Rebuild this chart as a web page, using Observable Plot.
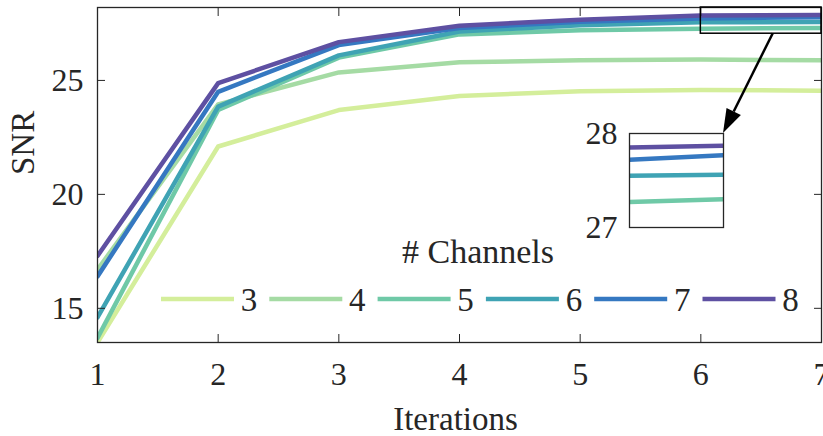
<!DOCTYPE html>
<html><head><meta charset="utf-8">
<script src="https://cdn.jsdelivr.net/npm/d3@7"></script>
<script src="https://cdn.jsdelivr.net/npm/@observablehq/plot@0.6"></script>
<style>
body{margin:0;background:#fff;font-family:"Liberation Serif","DejaVu Serif",serif;}
#wrap{position:relative;width:823px;height:436px;overflow:hidden;}
#inset{position:absolute;left:579px;top:123px;}
svg text{font-family:"Liberation Serif","DejaVu Serif",serif !important;}
</style></head><body><div id="wrap"><div id="main"></div><div id="inset"></div></div>
<script>
// ---- data ----
const iterations = [1, 2, 3, 4, 5, 6, 7];
const channels = [3, 4, 5, 6, 7, 8];
const snr3 = [13.5, 22.1, 23.7, 24.32, 24.52, 24.58, 24.55];
const snr4 = [16.7, 23.95, 25.35, 25.8, 25.88, 25.92, 25.88];
const snr5 = [13.7, 23.7, 26.0, 27.02, 27.2, 27.27, 27.3];
const snr6 = [14.6, 23.85, 26.1, 27.15, 27.42, 27.55, 27.56];
const snr7 = [16.4, 24.5, 26.55, 27.3, 27.57, 27.72, 27.77];
const snr8 = [17.3, 24.88, 26.68, 27.4, 27.66, 27.85, 27.87];
const channelColors = ["#d4ee9b", "#a5dba4", "#6fc9a7", "#3fa3b4", "#3578c1", "#5e50a2"];
const xTicks = [1, 2, 3, 4, 5, 6, 7];
const yTicks = [15, 20, 25];
const insetYTicks = [27, 28];
const zoomBox = [{x1: 6, x2: 7, y1: 27.05, y2: 28.2}];
const arrowStart = {x: 6.6, y: 27.05};

const seriesValues = [snr3, snr4, snr5, snr6, snr7, snr8];
const data = channels.flatMap((c, i) => iterations.map((it, j) => ({channel: c, iteration: it, snr: seriesValues[i][j]})));

const font = "Liberation Serif, DejaVu Serif, serif";
const ink = "#262626";
const color = {domain: channels, range: channelColors};
const fmt = d => String(d);

const main = Plot.plot({
  width: 823, height: 436,
  marginLeft: 97, marginRight: 2, marginTop: 7, marginBottom: 94,
  style: {fontFamily: font, color: ink, background: "#fff", overflow: "visible"},
  x: {domain: [1, 7]},
  y: {domain: [13.5, 28.2]},
  color,
  marks: [
    Plot.line(data, {x: "iteration", y: "snr", z: "channel", stroke: "channel", strokeWidth: 4.5, clip: true}),
    Plot.frame({stroke: ink, strokeWidth: 1.3}),
    Plot.axisX(xTicks, {anchor: "bottom", tickSize: -8, tickFormat: () => "", label: null}),
    Plot.axisX(xTicks, {anchor: "top", tickSize: -8, tickFormat: () => "", label: null}),
    Plot.axisY(yTicks, {anchor: "left", tickSize: -8, tickFormat: () => "", label: null}),
    Plot.axisY(yTicks, {anchor: "right", tickSize: -8, tickFormat: () => "", label: null}),
    Plot.axisX(xTicks, {anchor: "bottom", tickSize: 0, tickPadding: 20, fontSize: 32, tickFormat: fmt, label: null}),
    Plot.axisY(yTicks, {anchor: "left", tickSize: 0, tickPadding: 14, fontSize: 32, tickFormat: fmt, label: null}),
    Plot.text(["Iterations"], {frameAnchor: "bottom", lineAnchor: "top", dy: 64, dx: -4, fontSize: 33, fill: ink}),
    Plot.text(["SNR"], {frameAnchor: "left", rotate: -90, dx: -74, fontSize: 33, fill: ink}),
    Plot.rect(zoomBox, {x1: "x1", x2: "x2", y1: "y1", y2: "y2", stroke: "#000", fill: "none", strokeWidth: 1.5})
  ]
});
document.getElementById("main").appendChild(main);

const insetLeft = 579, insetTop = 123;
const insetData = data.filter(d => d.iteration >= 6 && d.channel >= 5);
const inset = Plot.plot({
  width: 146, height: 124,
  marginLeft: 50, marginRight: 2, marginTop: 10, marginBottom: 20,
  style: {fontFamily: font, color: ink, background: "transparent", overflow: "visible"},
  x: {domain: [6, 7], axis: null},
  y: {domain: [27, 28], axis: null},
  color,
  marks: [
    Plot.frame({fill: "#fff"}),
    Plot.line(insetData, {x: "iteration", y: "snr", z: "channel", stroke: "channel", strokeWidth: 4.5, clip: true}),
    Plot.frame({stroke: ink, strokeWidth: 1.3}),
    Plot.axisY(insetYTicks, {anchor: "left", tickSize: 0, tickPadding: 12, fontSize: 32, tickFormat: fmt, label: null})
  ]
});
document.getElementById("inset").appendChild(inset);

// ---- arrow + legend overlay ----
const svg = d3.select(main);
const sx = main.scale("x"), sy = main.scale("y");
const ix = inset.scale("x"), iy = inset.scale("y");
const x0 = sx.apply(arrowStart.x), y0 = sy.apply(arrowStart.y);
const x1 = insetLeft + ix.apply(7), y1 = insetTop + iy.apply(28);
const ang = Math.atan2(y1 - y0, x1 - x0);
const hl = 24, hw = 8;
const bx = x1 - hl * Math.cos(ang), by = y1 - hl * Math.sin(ang);
svg.append("line").attr("x1", x0).attr("y1", y0).attr("x2", bx).attr("y2", by)
  .attr("stroke", "#000").attr("stroke-width", 2.5);
svg.append("polygon").attr("points", [
  [x1, y1],
  [bx + hw * Math.sin(ang), by - hw * Math.cos(ang)],
  [bx - hw * Math.sin(ang), by + hw * Math.cos(ang)]
].map(p => p.join(",")).join(" ")).attr("fill", "#000");

const lg = svg.append("g").attr("font-family", font).attr("fill", ink);
lg.append("text").attr("x", 478).attr("y", 263).attr("text-anchor", "middle")
  .attr("font-size", 34).text("# Channels");
channels.forEach((c, i) => {
  const lx = 161 + i * 108.3;
  lg.append("line").attr("x1", lx).attr("x2", lx + 73).attr("y1", 299).attr("y2", 299)
    .attr("stroke", channelColors[i]).attr("stroke-width", 4.5);
  lg.append("text").attr("x", lx + 88).attr("y", 311).attr("text-anchor", "middle")
    .attr("font-size", 33).text(String(c));
});
</script>
</body></html>
